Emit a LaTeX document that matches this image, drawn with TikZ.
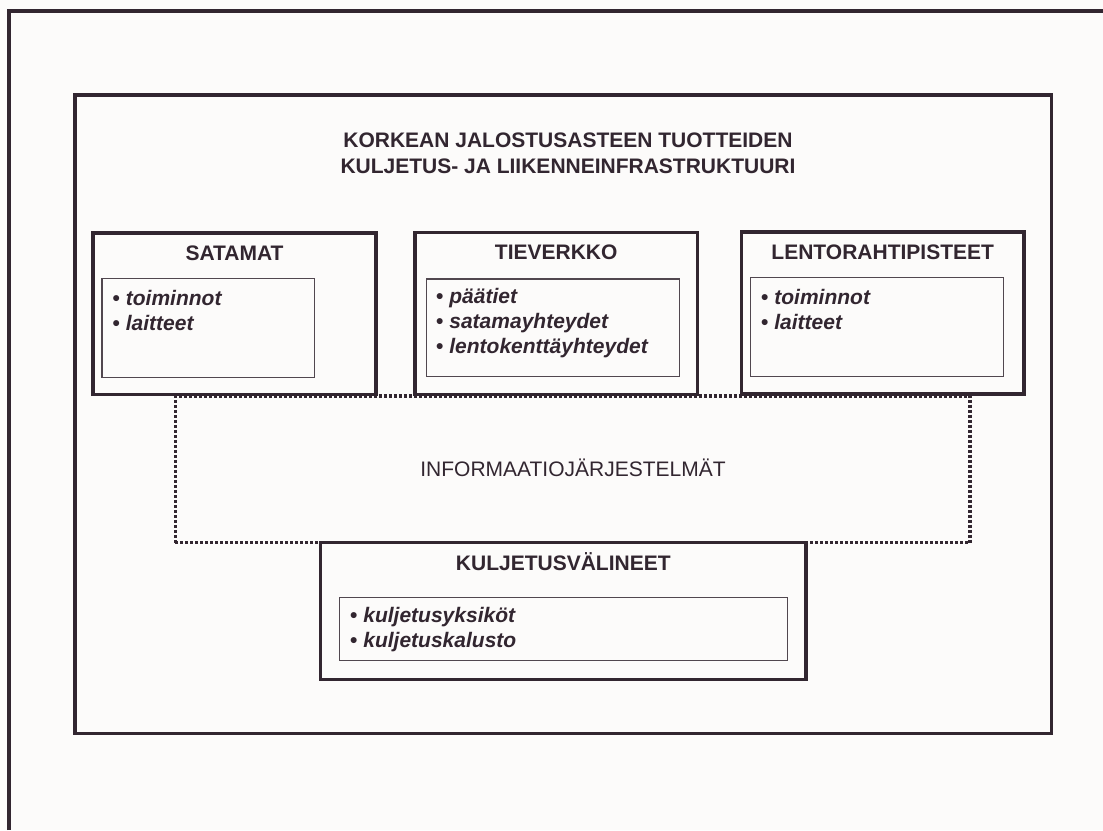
\documentclass[tikz,border=0pt]{standalone}
\usepackage{fontspec}
\setmainfont{Liberation Sans}
\definecolor{ink}{RGB}{50,38,48}
\definecolor{paper}{RGB}{252,251,250}
\newcommand{\bul}{{\upshape\textbullet}~}
\begin{document}
\begin{tikzpicture}[x=1pt, y=-1pt,
    frame/.style={draw=ink, line width=3.2pt},
    listbox/.style={draw=ink!85, line width=1.3pt},
    infoline/.style={draw=ink, line width=3.2pt, dash pattern=on 3pt off 2pt},
    head/.style={anchor=base, text=ink, inner sep=0pt, font=\bfseries\fontsize{21}{25.8}\selectfont},
    items/.style={anchor=base west, text=ink, inner sep=0pt, align=left, font=\bfseries\itshape\fontsize{21}{25}\selectfont}]
    % Page
    \fill[paper] (0,0) rectangle (1103,830);
    \useasboundingbox (0,0) rectangle (1103,830);

    % Outer frame, cut at the right and at the bottom
    \draw[frame] (9,830) -- (9,11) -- (1103,11);

    % Infrastructure frame and its title (anchored at the last line)
    \draw[frame] (75,95) rectangle (1051.5,733.5);
    \node[head, align=center] (title) at (568,173.3) {KORKEAN JALOSTUSASTEEN TUOTTEIDEN\\KULJETUS- JA LIIKENNEINFRASTRUKTUURI};

    % Information systems (dotted)
    \draw[infoline] (175.3,542.7) -- (175.3,396) -- (970,396) -- (970,542.7) -- cycle;
    \node[anchor=base, text=ink, inner sep=0pt, font=\fontsize{21}{25}\selectfont] (info) at (573,476) {INFORMAATIOJÄRJESTELMÄT};

    % Ports
    \draw[frame] (93,233) rectangle (376,394.5);
    \draw[listbox] (102,278.7) rectangle (314.7,377.3);
    \node[head] (satamat) at (234.5,260) {SATAMAT};
    \node[items] (satamalista) at (112.5,330) {\bul toiminnot\\\bul laitteet};

    % Road network
    \draw[frame] (415,232.3) rectangle (697.3,394.7);
    \draw[listbox] (426.7,279) rectangle (679.3,376.7);
    \node[head] (tieverkko) at (556.2,259.5) {TIEVERKKO};
    \node[items] (tielista) at (436,353.5) {\bul päätiet\\\bul satamayhteydet\\\bul lentokenttäyhteydet};

    % Air cargo points
    \draw[frame] (741.3,232) rectangle (1024,394);
    \draw[listbox] (750.7,277.2) rectangle (1003.3,376.3);
    \node[head] (lento) at (882.7,259.5) {LENTORAHTIPISTEET};
    \node[items] (lentolista) at (761,329.3) {\bul toiminnot\\\bul laitteet};

    % Means of transport
    \draw[frame] (320.7,542.7) rectangle (806,679.3);
    \draw[listbox] (339.7,597.3) rectangle (787.3,660.7);
    \node[head] (valineet) at (563.3,570) {KULJETUSVÄLINEET};
    \node[items] (valinelista) at (350,647.5) {\bul kuljetusyksiköt\\\bul kuljetuskalusto};
\end{tikzpicture}
\end{document}
